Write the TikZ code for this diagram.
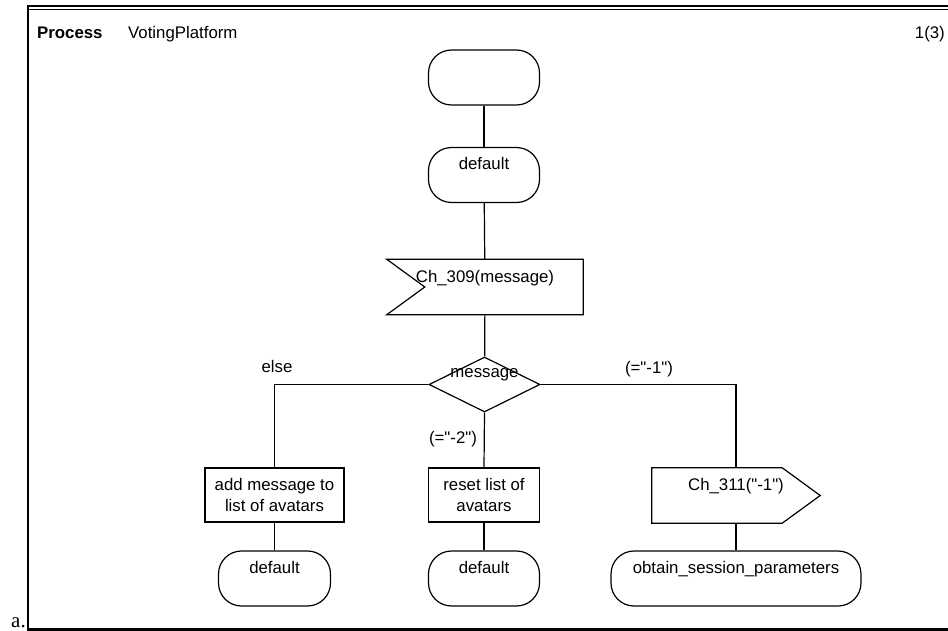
\documentclass[tikz,border=0pt]{standalone}
\usepackage{fontspec}
\setmainfont{Liberation Sans}[Ligatures=TeXOff]
\newfontfamily\serifa{Liberation Serif}
\usetikzlibrary{shapes.geometric}
\begin{document}
\begin{tikzpicture}[x=1pt,y=-1pt,
  font=\fontsize{16.8}{21}\selectfont,
  lw/.style={line width=1.2pt},
  stadium/.style={draw, lw, rounded corners=23pt, inner sep=0pt, minimum height=55pt,
     text height=12pt, text depth=22pt},
  sigbox/.style={draw=none, inner sep=0pt, minimum height=55pt,
     text height=12pt, text depth=22pt},
  task/.style={draw, lw, inner sep=0pt, minimum height=54pt, align=center},
  decision/.style={draw, lw, diamond, inner sep=0pt, minimum width=111pt, minimum height=55pt},
  conn/.style={lw},
  lbl/.style={inner sep=0pt, anchor=base}]
\useasboundingbox (0,0) rectangle (948,631);
% frame
\draw[line width=2.6pt] (28,6) -- (948,6);
\draw[line width=1pt] (28,9.2) -- (948,9.2);
\draw[line width=2.6pt] (28,5) -- (28,630);
\draw[line width=2.6pt] (26.7,629.5) -- (948,629.5);
\node[inner sep=0pt, anchor=base east] (amark) at (26,627.5) {\serifa\fontsize{21}{22}\selectfont a.};
% header
\node[inner sep=0pt, anchor=base west] (hproc) at (37,39) {\bfseries Process};
\node[inner sep=0pt, anchor=base west] (hname) at (128,39) {VotingPlatform};
\node[inner sep=0pt, anchor=base east] (hpage) at (945,39) {1(3)};
% main column
\node[stadium, minimum width=111pt] (start) at (484,77.5) {};
\node[stadium, minimum width=111pt] (def1) at (484,175) {default};
\node[sigbox, minimum width=196pt] (in) at (485,287) {Ch\_309(message)};
\draw[lw] (in.north west) -- (in.north east) -- (in.south east) -- (in.south west)
   -- ([xshift=38pt]in.west) -- cycle;
\node[decision] (dia) at (484.5,384.5) {};
\node[lbl] (diatext) at (484.5,377) {message};
% branches
\node[task, minimum width=139pt] (lt) at (274.5,495) {add message to\\list of avatars};
\node[task, minimum width=111pt] (mt) at (484,495) {reset list of\\avatars};
\node[sigbox, minimum width=168pt] (out) at (736,495.5) {Ch\_311("-1")};
\draw[lw] (out.north west) -- ([xshift=-38pt]out.north east) -- (out.east)
   -- ([xshift=-38pt]out.south east) -- (out.south west) -- cycle;
\node[stadium, minimum width=112pt] (ld) at (274.5,578.5) {default};
\node[stadium, minimum width=111pt] (md) at (484,578.5) {default};
\node[stadium, minimum width=250pt] (rd) at (736,578.5) {obtain\_session\_parameters};
% labels
\node[lbl] (lelse) at (277,372) {else};
\node[lbl] (lm2) at (453,443) {(="-2")};
\node[lbl] (lm1) at (649,373) {(="-1")};
% connectors
\draw[conn] (start) -- (def1);
\draw[conn] (def1) -- (in);
\draw[conn] (in) -- (dia);
\draw[conn] (dia.west) -| (lt.north);
\draw[conn] (dia.south) -- (mt.north);
\draw[conn] (dia.east) -| (out.north);
\draw[conn] (lt) -- (ld);
\draw[conn] (mt) -- (md);
\draw[conn] (out) -- (rd);
\end{tikzpicture}
\end{document}
